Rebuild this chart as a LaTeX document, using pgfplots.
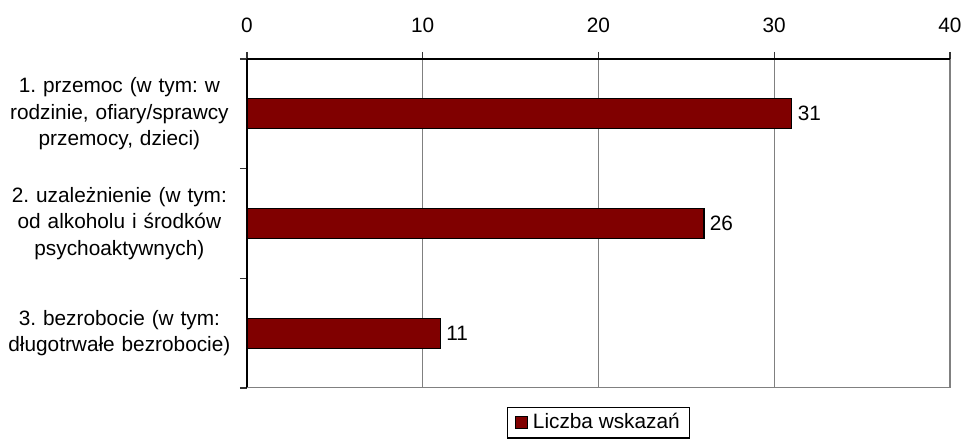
\documentclass[border=0pt]{standalone}
\usepackage{pgfplots}
\pgfplotsset{compat=1.18}
\usepackage{fontspec}
\setmainfont{Liberation Sans}
\definecolor{barred}{HTML}{800000}
\definecolor{gridgray}{HTML}{808080}
\begin{document}
\frenchspacing
\fontsize{15.6}{19.8}\selectfont
\begin{tikzpicture}
\useasboundingbox (0,0) rectangle (723pt,329.25pt);
\begin{axis}[
  at={(185.25pt,38.25pt)}, anchor=south west,
  scale only axis, width=527.25pt, height=246.75pt,
  font=\fontsize{15.6}{19.8}\selectfont,
  /pgf/number format/assume math mode=true,
  xbar, bar width=22.5pt,
  xmin=0, xmax=40, ymin=-0.5, ymax=2.5,
  axis x line*=top, axis y line*=left,
  axis line style={-, black, line width=0.8pt},
  xtick={0,10,20,30,40},
  xmajorgrids, major grid style={gridgray, line width=0.8pt},
  tick align=outside, major tick length=5.25pt,
  tick style={black!80, line width=0.8pt},
  xticklabel style={anchor=south, inner sep=0pt, yshift=14.25pt},
  ytick={-0.5,0.5,1.5,2.5}, yticklabel={\mbox{}},
  extra y ticks={0,1,2},
  extra y tick labels={{3. bezrobocie (w tym:\\długotrwałe bezrobocie)},
    {2. uzależnienie (w tym:\\od alkoholu i środków\\psychoaktywnych)},
    {1. przemoc (w tym: w\\rodzinie, ofiary/sprawcy\\przemocy, dzieci)}},
  extra y tick style={major tick length=0pt,
    yticklabel style={anchor=east, text width=170pt, align=center, inner sep=0pt, xshift=-10.5pt}},
  nodes near coords,
  nodes near coords style={font=\fontsize{15.6}{19.8}\selectfont, inner sep=4pt, black},
  legend style={at={(0.5,-0.0578)}, anchor=north, draw=black, line width=0.8pt,
    inner xsep=5pt, inner ysep=2.5pt, font=\fontsize{15.6}{18.5}\selectfont,
    nodes={inner sep=2pt}},
  legend image code/.code={\draw[#1, draw=black, line width=0.8pt] (0pt,-4.5pt) rectangle (9pt,4.5pt);},
]
\addplot[fill=barred, draw=black, line width=0.9pt] coordinates {(11,0) (26,1) (31,2)};
\addlegendentry{\hspace{2pt}Liczba wskazań\hspace{2pt}}
\draw[gridgray, line width=0.8pt] (axis cs:0,-0.5) -- (axis cs:40,-0.5);
\end{axis}
\end{tikzpicture}
\end{document}
